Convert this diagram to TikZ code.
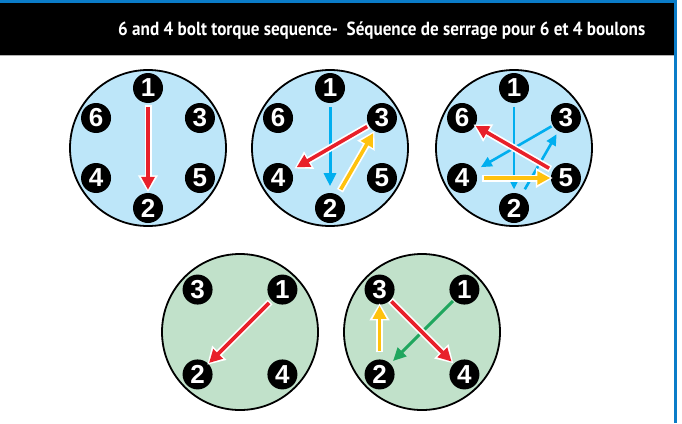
\documentclass[tikz,border=0pt]{standalone}
\usepackage{fontspec}
\usetikzlibrary{arrows.meta,calc}
\newfontfamily\titlefont{PT Sans}
\newfontfamily\boltfont{Liberation Sans}
\definecolor{hdrblue}{HTML}{0A7CC8}
\definecolor{plateblue}{HTML}{BDE6F9}
\definecolor{plategreen}{HTML}{C1E1CA}
\definecolor{seqred}{HTML}{E8202A}
\definecolor{seqyellow}{HTML}{FFC20E}
\definecolor{seqblue}{HTML}{00AEEF}
\definecolor{seqgreen}{HTML}{20A65E}
\tikzset{
  plate/.style={circle, draw=black, line width=1.8pt, minimum size=156pt, inner sep=0pt},
  bolt/.style={circle, fill=black, minimum size=30pt, inner sep=0pt, text=white,
    font=\boltfont\bfseries\fontsize{26}{26}\selectfont},
  thinarrow/.style={line width=3pt, -{Triangle[width=12pt,length=13pt]}},
  thinnerarrow/.style={line width=2.6pt, -{Triangle[width=10pt,length=11pt]}},
}
% outlined arrow: colour, start shortening, end shortening, from, to
\newcommand\oarrow[5]{%
  \draw[white, line width=7pt, -{Triangle[width=19pt,length=17pt]},
        shorten <={#2pt-1.5pt}, shorten >={#3pt-2.5pt}] (#4) -- (#5);
  \draw[#1, line width=3.6pt, -{Triangle[width=13pt,length=13pt]},
        shorten <=#2pt, shorten >=#3pt] (#4) -- (#5);}
\begin{document}
\begin{tikzpicture}[x=1pt,y=-1pt]
\useasboundingbox (0,0) rectangle (682,423);
% header
\fill[black] (0,3) rectangle (674,55);
\draw[gray!60, line width=1pt] (0,55.5) -- (674,55.5);
\fill[hdrblue] (0,0) rectangle (677,3);
\fill[hdrblue] (674,0) rectangle (677,423);
\node[anchor=base west, inner sep=0pt, text=white] (title) at (118,35.5)
  {\resizebox{527pt}{\height}{\titlefont\bfseries\fontsize{19}{19}\selectfont 6 and 4 bolt torque sequence-\ \ Séquence de serrage pour 6 et 4 boulons}};

% ---- plate A: 6 bolts, step 1
\node[plate, fill=plateblue] (pa) at (148,148) {};
\foreach \n/\a in {1/90,3/30,5/-30,2/-90,4/-150,6/150}
  \node[bolt] (a\n) at ($(pa)+(\a:60 and -60)$) {\n};
\oarrow{seqred}{3.7}{3}{a1}{a2}

% ---- plate B
\node[plate, fill=plateblue] (pb) at (330,148) {};
\foreach \n/\a in {1/90,3/30,5/-30,2/-90,4/-150,6/150}
  \node[bolt] (b\n) at ($(pb)+(\a:60 and -60)$) {\n};
\draw[seqblue, thinarrow, shorten <=3.7pt, shorten >=6.6pt] (b1) -- (b2);
\oarrow{seqred}{1.9}{6.2}{b3}{b4}
\oarrow{seqyellow}{6.2}{2.3}{b2}{b3}

% ---- plate C
\node[plate, fill=plateblue] (pc) at (514,148) {};
\foreach \n/\a in {1/90,3/30,5/-30,2/-90,4/-150,6/150}
  \node[bolt] (c\n) at ($(pc)+(\a:60 and -60)$) {\n};
\draw[seqblue, thinnerarrow, shorten <=3.4pt, shorten >=3.3pt] (c1) -- (c2);
\draw[seqblue, thinnerarrow, shorten <=1.5pt, shorten >=6.5pt] (c3) -- (c4);
\draw[seqblue, thinnerarrow, shorten <=6.4pt, shorten >=3.5pt] (c2) -- (c3);
\oarrow{seqred}{4.3}{0.5}{c5}{c6}
\oarrow{seqyellow}{6.6}{0.5}{c4}{c5}

% ---- plate D: 4 bolts, step 1
\node[plate, fill=plategreen] (pd) at (240,332) {};
\foreach \n/\a in {1/45,3/135,2/-135,4/-45}
  \node[bolt] (d\n) at ($(pd)+(\a:60 and -60)$) {\n};
\oarrow{seqred}{3.7}{1}{d1}{d2}

% ---- plate E
\node[plate, fill=plategreen] (pe) at (422,332) {};
\foreach \n/\a in {1/45,3/135,2/-135,4/-45}
  \node[bolt] (e\n) at ($(pe)+(\a:60 and -60)$) {\n};
\draw[seqgreen, thinarrow, shorten <=1pt, shorten >=3.8pt] (e1) -- (e2);
\oarrow{seqyellow}{8.3}{1}{e2}{e3}
\oarrow{seqred}{1.6}{3}{e3}{e4}
\end{tikzpicture}
\end{document}
